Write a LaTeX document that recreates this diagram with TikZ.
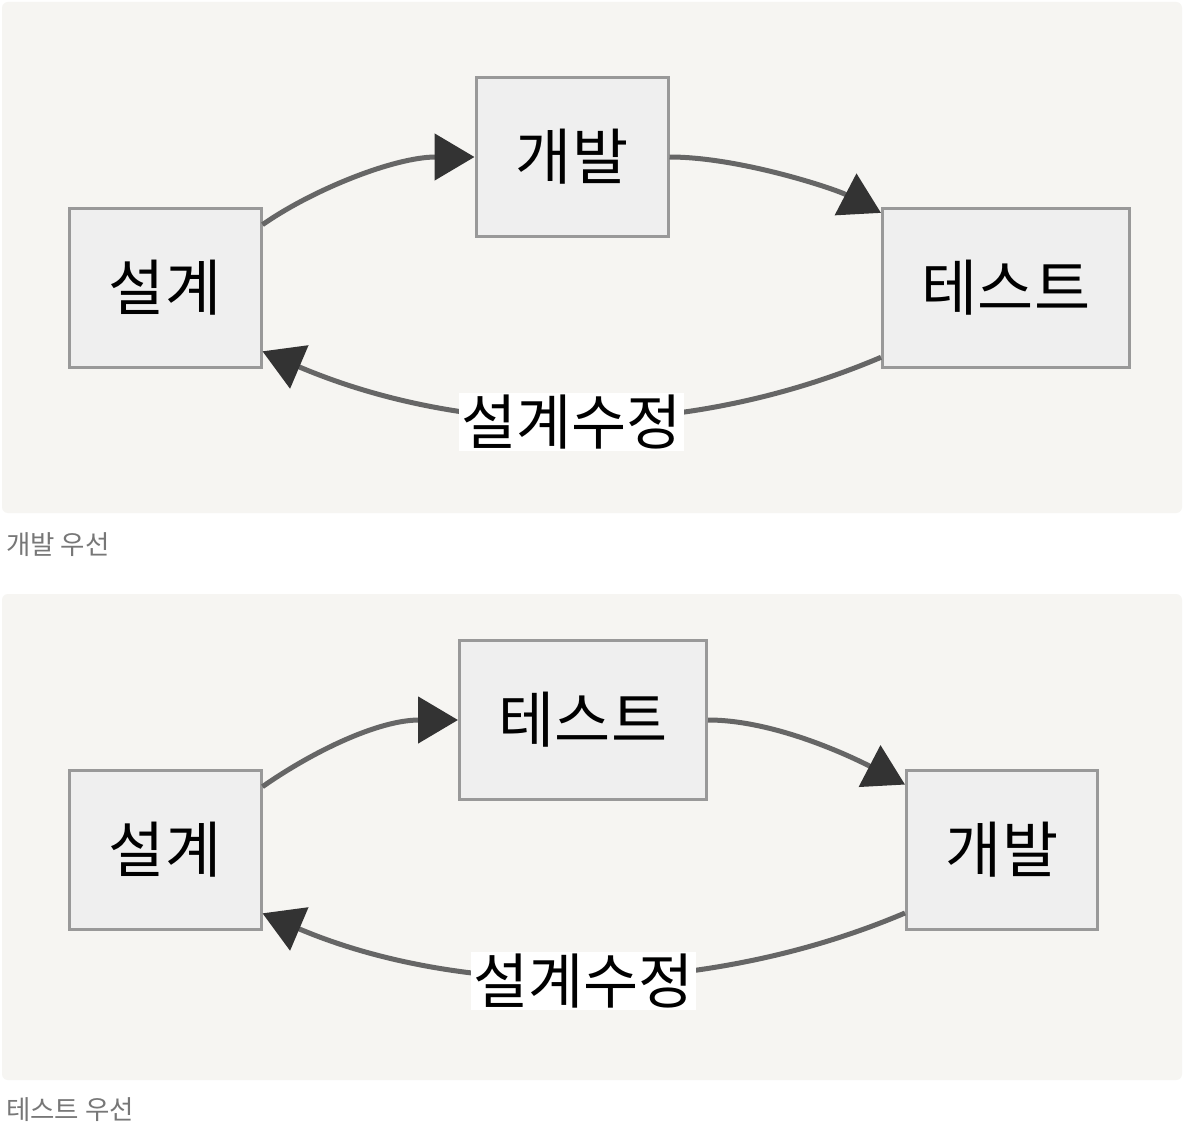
\documentclass[tikz,border=0pt]{standalone}
\usepackage{fontspec}
\setmainfont{Noto Sans CJK KR}
\usetikzlibrary{arrows.meta}

\definecolor{panelbg}{HTML}{F6F5F2}
\definecolor{boxfill}{HTML}{EFEFEF}
\definecolor{boxline}{HTML}{999999}
\definecolor{flowline}{HTML}{666666}
\definecolor{tipfill}{HTML}{333333}
\definecolor{captext}{HTML}{777777}

\tikzset{
  panel/.style={fill=panelbg, rounded corners=6pt},
  stage/.style={draw=boxline, fill=boxfill, line width=3pt, inner sep=0pt,
    minimum height=159pt, font=\fontsize{61}{63}\selectfont},
  flow/.style={draw=flowline, line width=5pt,
    -{Triangle[length=40pt,width=46pt,color=tipfill]}},
  fixlabel/.style={fill=white, inner sep=2pt, yshift=-4pt,
    font=\fontsize{60}{62}\selectfont},
  caption/.style={text=captext, anchor=west, inner sep=0pt,
    font=\fontsize{26.5}{28}\selectfont}
}

\begin{document}
\begin{tikzpicture}[x=1pt,y=-1pt]
\useasboundingbox (0,0) rectangle (1184,1134);
\fill[white] (0,0) rectangle (1184,1134);

% development first
\path[panel] (2,2) rectangle (1182,513);
\node[stage, minimum width=192pt] (s1) at (165,288) {설계};
\node[stage, minimum width=192pt] (d1) at (572,157) {개발};
\node[stage, minimum width=247pt] (t1) at (1006,288) {테스트};
\draw[flow] (s1.33) .. controls +(50,-35) and +(-80,0) .. (d1.west);
\draw[flow] (d1.east) .. controls +(70,0) and +(-46,-24) .. (t1.149);
\draw[flow] (t1.209) .. controls +(-200,85) and +(200,85) ..
  node[fixlabel, midway] (f1) {설계수정} (s1.-33);
\node[caption] (c1) at (6,545) {개발 우선};

% test first
\path[panel] (2,594) rectangle (1182,1080);
\node[stage, minimum width=192pt] (s2) at (165,850) {설계};
\node[stage, minimum width=247pt] (t2) at (583,720) {테스트};
\node[stage, minimum width=191pt] (d2) at (1002,850) {개발};
\draw[flow] (s2.33) .. controls +(50,-35) and +(-80,0) .. (t2.west);
\draw[flow] (t2.east) .. controls +(70,0) and +(-46,-24) .. (d2.146);
\draw[flow] (d2.213) .. controls +(-200,85) and +(200,85) ..
  node[fixlabel, midway] (f2) {설계수정} (s2.-33);
\node[caption] (c2) at (6,1110) {테스트 우선};
\end{tikzpicture}
\end{document}
